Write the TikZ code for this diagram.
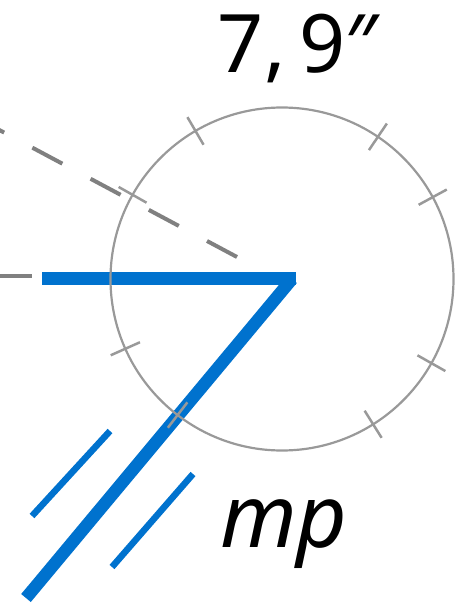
\documentclass[tikz,border=0pt]{standalone}
\usepackage{fontspec}
\setsansfont{Noto Sans}
\definecolor{azure}{HTML}{0072CE}
\definecolor{rimgray}{HTML}{999999}
\definecolor{dashgray}{HTML}{808080}
\usetikzlibrary{calc}
\begin{document}
\begin{tikzpicture}[x=1bp,y=-1bp,font=\sffamily,
  rim/.style={draw=rimgray,line width=2.2bp},
  tickmark/.style={draw=rimgray,line width=2.5bp},
  guide/.style={draw=dashgray,line width=4bp,dash pattern=on 34bp off 32bp},
  bar/.style={draw=azure,line width=12.5bp},
  thinbar/.style={draw=azure,line width=6.5bp}]
\useasboundingbox (0,0) rectangle (467,603);
% grey guides
\coordinate (gA) at (237,257);
\coordinate (gB) at (-5,127.7);
\draw[guide] (gA) -- (gB);
\coordinate (hA) at (0,276);
\coordinate (hB) at (32,276);
\draw[dashgray,line width=3.5bp] (hA) -- (hB);
% the blue strokes
\coordinate (bL) at (42,278.5);
\coordinate (bR) at (296,278.5);
\coordinate (bV) at (292,279);
\coordinate (bE) at (26,598);
\draw[bar] (bL) -- (bR);
\draw[bar] (bV) -- (bE);
\coordinate (s1) at (110,431);
\coordinate (s2) at (32,516);
\coordinate (t1) at (193,474);
\coordinate (t2) at (112,567);
\draw[thinbar] (s1) -- (s2);
\draw[thinbar] (t1) -- (t2);
% the dial and its ticks, on top
\coordinate (ctr) at (282,279);
\draw[rim] (ctr) circle[radius=171.5];
\foreach \a in {-120.3,-56,-28.5,-150.6,-204,-232.5,29.4,57.9}{
  \draw[tickmark] ($(ctr)+(\a:155.5)$) -- ($(ctr)+(\a:187.5)$);}
% labels
\node[anchor=base,inner sep=0pt,font=\sffamily\fontsize{81}{81}\selectfont] (angle) at (298,73) {7,\,9″};
\node[anchor=base,inner sep=0pt,font=\sffamily\itshape\fontsize{88}{88}\selectfont] (mp) at (284,547) {mp};
\end{tikzpicture}
\end{document}
